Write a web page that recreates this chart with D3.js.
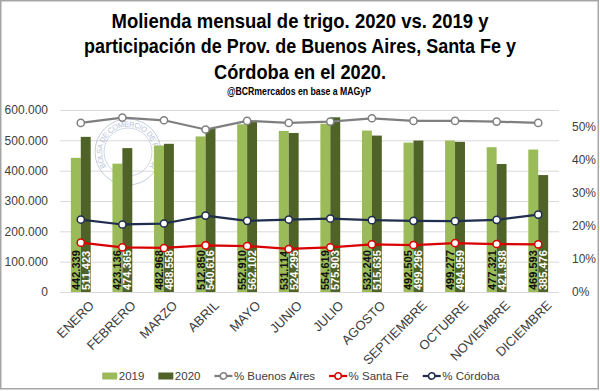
<!DOCTYPE html>
<html>
<head>
<meta charset="utf-8">
<script src="https://cdn.jsdelivr.net/npm/d3@7"></script>
<style>
  body { margin: 0; background: #fff; }
  svg { display: block; }
</style>
</head>
<body>
<div id="chart"></div>
<script>
const months = ["ENERO", "FEBRERO", "MARZO", "ABRIL", "MAYO", "JUNIO", "JULIO",
  "AGOSTO", "SEPTIEMBRE", "OCTUBRE", "NOVIEMBRE", "DICIEMBRE"];
const molienda2019 = [442339, 423136, 482968, 512850, 552910, 531114, 554619,
  532240, 492505, 499277, 477321, 469593];
const molienda2020 = [511423, 474365, 488558, 540616, 562102, 524295, 575903,
  515635, 499296, 494959, 421938, 385476];
const pctBuenosAires = [0.511, 0.527, 0.519, 0.491, 0.517, 0.511, 0.515,
  0.525, 0.517, 0.517, 0.515, 0.511];
const pctSantaFe = [0.149, 0.135, 0.133, 0.141, 0.139, 0.130, 0.135,
  0.144, 0.142, 0.148, 0.145, 0.144];
const pctCordoba = [0.219, 0.204, 0.207, 0.231, 0.215, 0.219, 0.222,
  0.217, 0.215, 0.214, 0.218, 0.234];
const leftTicks = [0, 100000, 200000, 300000, 400000, 500000, 600000];
const rightTicks = [0, 0.1, 0.2, 0.3, 0.4, 0.5];
const titleLines = [
  "Molienda mensual de trigo. 2020 vs. 2019 y",
  "participación de Prov. de Buenos Aires, Santa Fe y",
  "Córdoba en el 2020."
];
const subtitle = "@BCRmercados en base a MAGyP";

const width = 600, height = 391;
const plot = { left: 60, right: 559, top: 110, bottom: 292 };
const barColors = { "2019": "#9bbb59", "2020": "#4f6228" };
const lineSeries = [
  { name: "% Buenos Aires", values: pctBuenosAires, color: "#7f7f7f" },
  { name: "% Santa Fe", values: pctSantaFe, color: "#d80000" },
  { name: "% Córdoba", values: pctCordoba, color: "#1f2d4e" }
];

const locale = d3.formatLocale({ decimal: ",", thousands: ".", grouping: [3], currency: ["$", ""] });
const fmt = locale.format(",d");
const fmtPct = d3.format(".0%");

const svg = d3.select("#chart").append("svg")
  .attr("width", width)
  .attr("height", height)
  .style("font-family", "'Liberation Sans', Arial, sans-serif");

svg.append("rect")
  .attr("x", 0.75).attr("y", 0.75)
  .attr("width", width - 2.5).attr("height", height - 3)
  .attr("fill", "#fff")
  .attr("stroke", "#a6a6a6")
  .attr("stroke-width", 1.5);

// title
const titleWidths = [377, 432, 172];
svg.append("g")
  .selectAll("text")
  .data(titleLines)
  .join("text")
  .attr("x", width / 2)
  .attr("y", (d, i) => 27.5 + i * 25.7)
  .attr("text-anchor", "middle")
  .attr("textLength", (d, i) => titleWidths[i])
  .attr("lengthAdjust", "spacingAndGlyphs")
  .style("font-family", "'Liberation Sans Narrow', 'Liberation Sans', sans-serif")
  .style("font-weight", "bold")
  .style("font-size", "21px")
  .attr("fill", "#000")
  .text(d => d);

svg.append("text")
  .attr("x", width / 2 - 1)
  .attr("y", 95)
  .attr("text-anchor", "middle")
  .attr("textLength", 144)
  .attr("lengthAdjust", "spacingAndGlyphs")
  .style("font-family", "'Liberation Sans Narrow', 'Liberation Sans', sans-serif")
  .style("font-weight", "bold")
  .style("font-size", "10px")
  .text(subtitle);

// scales
const x0 = d3.scaleBand()
  .domain(months)
  .range([plot.left, plot.right])
  .paddingInner(2.19 / 4.19)
  .paddingOuter(2.19 / 4.19 / 2);
const x1 = d3.scaleBand()
  .domain(["2019", "2020"])
  .range([0, x0.bandwidth()]);
const yL = d3.scaleLinear().domain([0, 600000]).range([plot.bottom, plot.top]);
const yR = d3.scaleLinear().domain([0, 0.55]).range([plot.bottom, plot.top]);
const xc = m => x0(m) + x0.bandwidth() / 2;

// gridlines + left axis
const leftAxis = svg.append("g")
  .attr("transform", `translate(${plot.left},0)`)
  .call(d3.axisLeft(yL).tickValues(leftTicks).tickFormat(fmt)
    .tickSize(-(plot.right - plot.left)).tickPadding(12));
leftAxis.select(".domain").remove();
leftAxis.selectAll(".tick line").attr("stroke", "#d9d9d9");
leftAxis.selectAll(".tick text")
  .style("font-size", "12px")
  .attr("fill", "#404040");

const rightAxis = svg.append("g")
  .attr("transform", `translate(${plot.right},0)`)
  .call(d3.axisRight(yR).tickValues(rightTicks).tickFormat(fmtPct)
    .tickSize(0).tickPadding(13));
rightAxis.select(".domain").remove();
rightAxis.selectAll(".tick text")
  .style("font-size", "12px")
  .attr("fill", "#404040");

// watermark seal
const seal = svg.append("g")
  .attr("transform", "translate(128,152)")
  .attr("opacity", 0.5);
seal.append("circle").attr("r", 33).attr("fill", "none").attr("stroke", "#8a9cc0").attr("stroke-width", 1);
seal.append("circle").attr("r", 24).attr("fill", "none").attr("stroke", "#8a9cc0").attr("stroke-width", 0.8);
seal.append("path")
  .attr("id", "sealArc")
  .attr("fill", "none")
  .attr("d", "M -24,16 A 28.5,28.5 0 1,1 24,16");
seal.append("text")
  .style("font-size", "7.5px")
  .attr("fill", "#6f84b0")
  .attr("dy", "0.35em")
  .append("textPath")
  .attr("href", "#sealArc")
  .attr("startOffset", "0%")
  .text("BOLSA DE COMERCIO DE ROSARIO");

// bars
const barData = months.map((m, i) => ({ month: m, values: [
  { key: "2019", value: molienda2019[i] },
  { key: "2020", value: molienda2020[i] }
] }));

const groups = svg.append("g")
  .selectAll("g")
  .data(barData)
  .join("g")
  .attr("transform", d => `translate(${x0(d.month)},0)`);

groups.selectAll("rect")
  .data(d => d.values)
  .join("rect")
  .attr("x", d => x1(d.key))
  .attr("width", x1.bandwidth())
  .attr("y", d => yL(d.value))
  .attr("height", d => yL(0) - yL(d.value))
  .attr("fill", d => barColors[d.key]);

// lines
const line = d3.line()
  .x((d, i) => xc(months[i]))
  .y(d => yR(d));

lineSeries.forEach(s => {
  svg.append("path")
    .datum(s.values)
    .attr("fill", "none")
    .attr("stroke", s.color)
    .attr("stroke-width", 2.25)
    .attr("stroke-linejoin", "round")
    .attr("d", line);
});

// data labels
groups.selectAll("text")
  .data(d => d.values)
  .join("text")
  .attr("transform", d => `translate(${x1(d.key) + x1.bandwidth() / 2},${plot.bottom - 2}) rotate(-90)`)
  .attr("dy", "0.36em")
  .style("font-size", "11px")
  .style("font-weight", "bold")
  .attr("fill", d => d.key === "2019" ? "#111" : "#fff")
  .text(d => fmt(d.value));

lineSeries.forEach(s => {
  svg.append("g")
    .selectAll("circle")
    .data(s.values)
    .join("circle")
    .attr("cx", (d, i) => xc(months[i]))
    .attr("cy", d => yR(d))
    .attr("r", 3.6)
    .attr("fill", "#fff")
    .attr("stroke", s.color)
    .attr("stroke-width", 1.5);
});

// x labels
svg.append("g")
  .selectAll("text")
  .data(months)
  .join("text")
  .attr("transform", d => `translate(${xc(d) + 11},${plot.bottom + 11}) rotate(-45)`)
  .attr("text-anchor", "end")
  .attr("dy", "0.35em")
  .style("font-size", "13px")
  .attr("fill", "#404040")
  .text(d => d);

// legend
const legendItems = [
  { name: "2019", type: "bar", color: barColors["2019"] },
  { name: "2020", type: "bar", color: barColors["2020"] },
  ...lineSeries.map(s => ({ name: s.name, type: "line", color: s.color }))
];
const legend = svg.append("g").attr("transform", "translate(0,376)");
let lx = 0;
const legendG = legend.selectAll("g")
  .data(legendItems)
  .join("g");
legendG.each(function (d) {
  const g = d3.select(this);
  const symW = d.type === "bar" ? 15 : 18;
  if (d.type === "bar") {
    g.append("rect").attr("x", 0).attr("y", -3.5).attr("width", symW).attr("height", 7).attr("fill", d.color);
  } else {
    g.append("line").attr("x1", 0).attr("x2", symW).attr("stroke", d.color).attr("stroke-width", 2.25);
    g.append("circle").attr("cx", symW / 2).attr("r", 3.2).attr("fill", "#fff")
      .attr("stroke", d.color).attr("stroke-width", 1.5);
  }
  const t = g.append("text")
    .attr("x", symW + 1.5)
    .attr("dy", "0.35em")
    .style("font-size", "11.5px")
    .attr("fill", "#404040")
    .text(d.name);
  g.attr("transform", `translate(${lx},0)`);
  lx += symW + 1.5 + t.node().getComputedTextLength() + 14;
});
lx -= 14;
legend.attr("transform", `translate(${(width - lx) / 2 + 1},376)`);
</script>
</body>
</html>
